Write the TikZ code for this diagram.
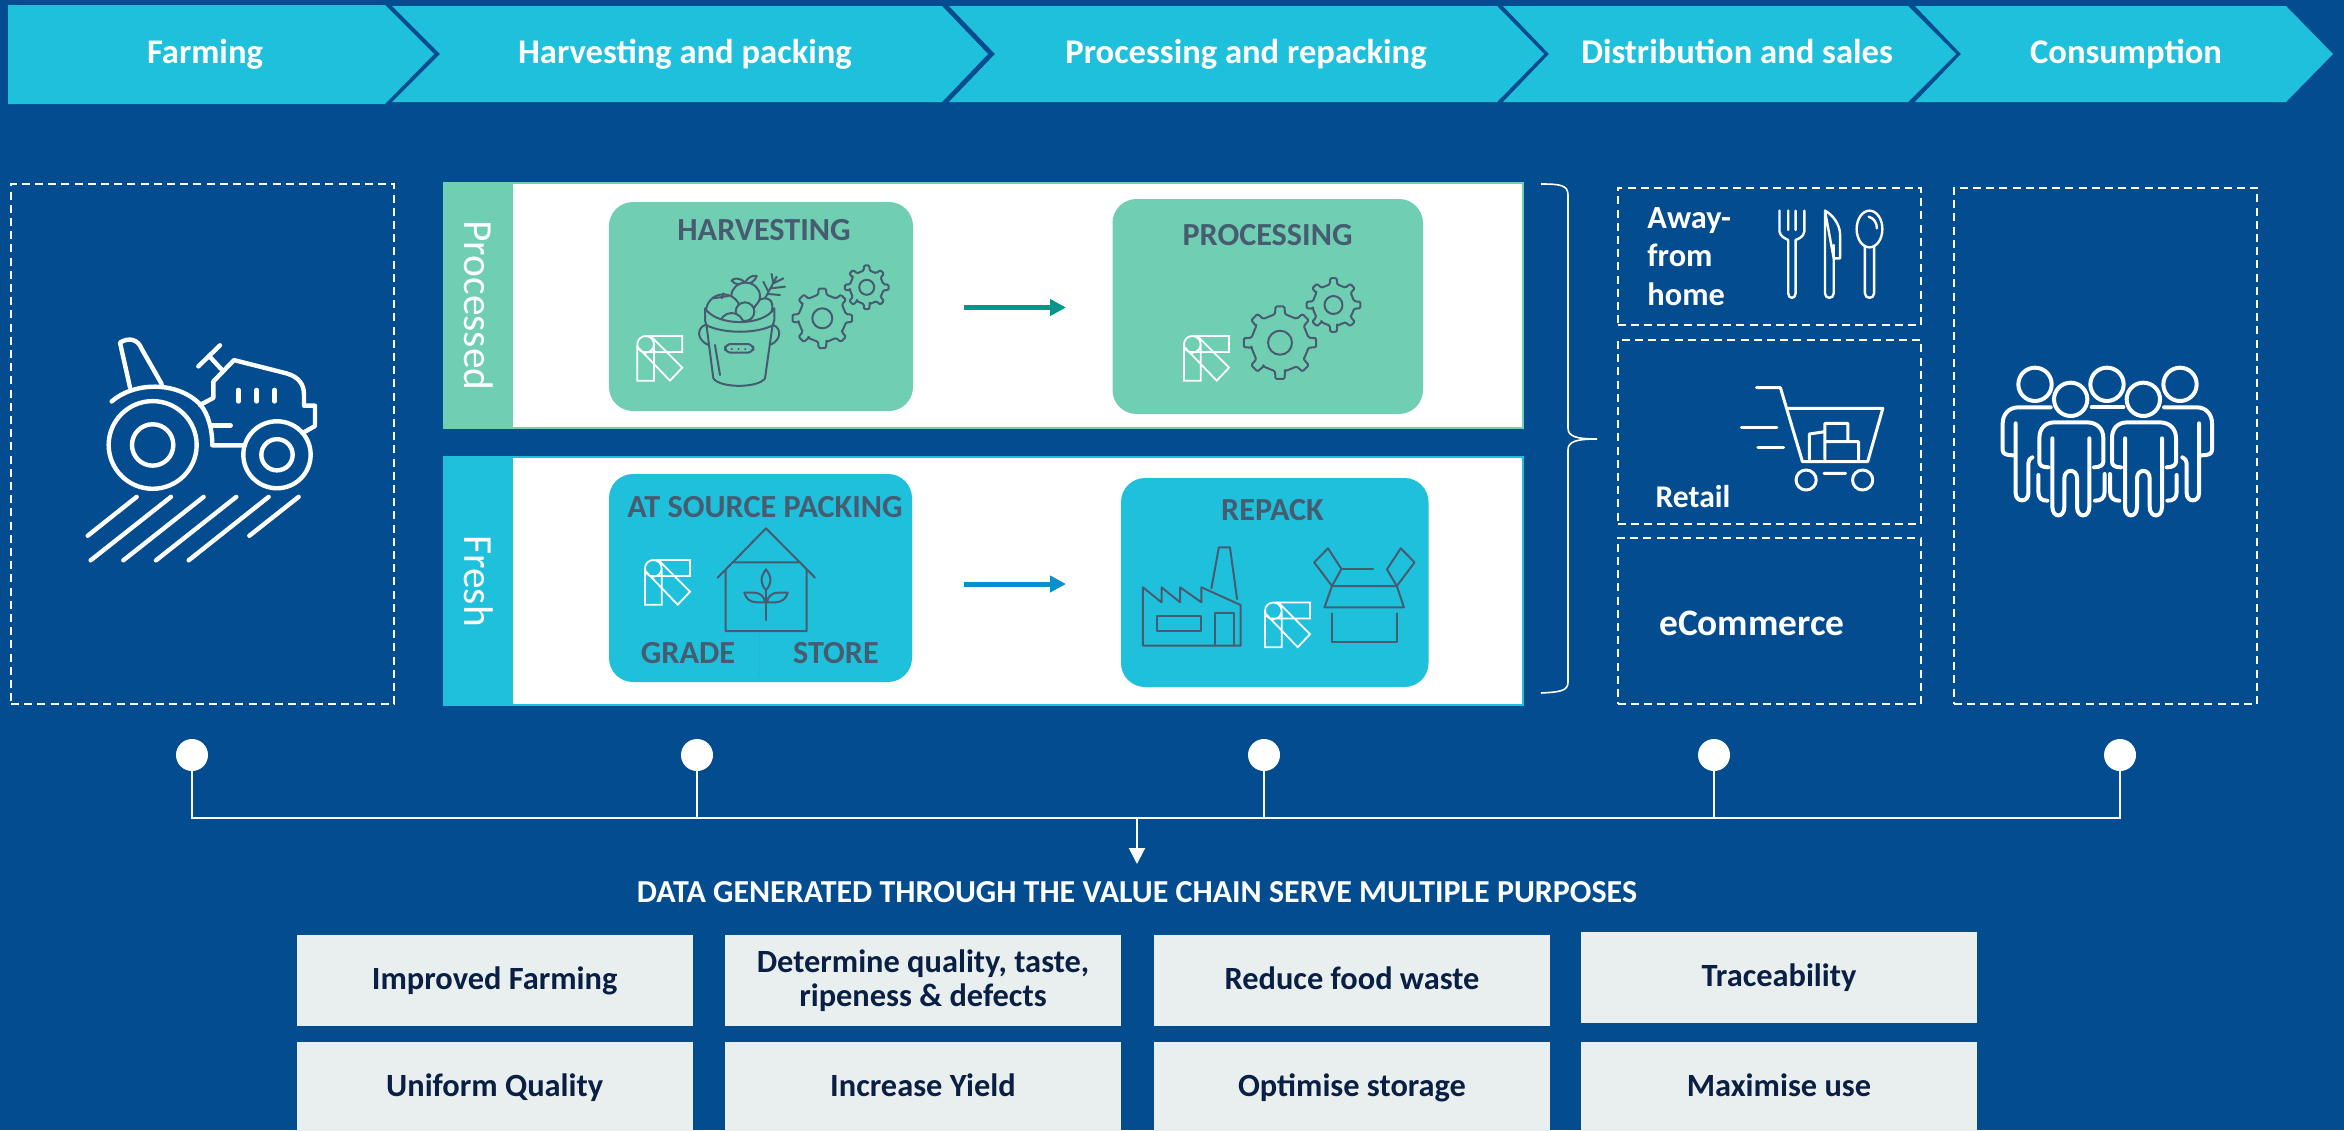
\documentclass[tikz,border=0pt]{standalone}
\usepackage{fontspec}
\setmainfont{Carlito}
\usetikzlibrary{arrows.meta,calc}
\definecolor{bgblue}{HTML}{024C8F}
\definecolor{cyanb}{HTML}{1FC0DC}
\definecolor{mint}{HTML}{70CFB2}
\definecolor{slate}{HTML}{475C70}
\definecolor{pale}{HTML}{E9EFEE}
\definecolor{navy}{HTML}{0A1F44}
\definecolor{teal}{HTML}{00968A}
\definecolor{arrowblue}{HTML}{0A8FCC}
\newcommand{\pstrut}{\rule[-3.5pt]{0pt}{16.4pt}}
\tikzset{
  chev/.style={fill=cyanb,draw=none},
  chevtext/.style={text=white,font=\fontsize{17.3}{20}\selectfont\bfseries,inner sep=0pt,anchor=base},
  dashbox/.style={draw=white,line width=1pt,dash pattern=on 4pt off 2.6pt,inner sep=0pt,outer sep=0pt},
  panel/.style={fill=white,line width=1pt,inner sep=0pt,outer sep=0pt},
  strip/.style={inner sep=0pt,outer sep=0pt},
  striptext/.style={text=white,rotate=-90,font=\fontsize{20.7}{24}\selectfont,inner sep=0pt},
  card/.style={rounded corners=12pt,inner sep=0pt,outer sep=0pt},
  cardtitle/.style={text=slate,font=\fontsize{16.1}{19}\selectfont\bfseries,inner sep=0pt,anchor=base},
  whitetext/.style={text=white,font=\fontsize{16.2}{19.2}\selectfont\bfseries,inner sep=0pt},
  purpose/.style={fill=pale,text=navy,font=\fontsize{16.2}{17}\selectfont\bfseries,align=center,inner sep=0pt,outer sep=0pt},
  dot/.style={circle,fill=white,minimum size=16pt,inner sep=0pt,outer sep=0pt},
  bus/.style={draw=white,line width=1pt},
  icon/.style={draw=white,line width=2.2pt,line cap=round,line join=round},
  thinicon/.style={draw=white,line width=1.2pt,line cap=round,line join=round},
  darkicon/.style={draw=slate,line width=1pt,line cap=round,line join=round},
  flow/.style={line width=2.5pt,-{Triangle[length=8pt,width=8pt]}},
  logomark/.pic={
    \draw[white,line width=0.9pt,line join=miter]
      (25,25) circle[radius=25]
      (0,25) -- (0,134) -- (50,134) -- (50,25)
      (25,0) -- (135,0) -- (135,48) -- (15,48)
      (4,36) -- (98,134) -- (135,95) -- (40,0);
  }
}
% node given by its corners in reference pixels
\newcommand{\pxnode}[7]{%
  \pgfmathsetmacro{\pxw}{(#5-#3)*0.5}%
  \pgfmathsetmacro{\pxh}{(#6-#4)*0.5}%
  \node[#1,minimum width=\pxw pt,minimum height=\pxh pt] (#2) at ({(#3+#5)/2},{(#4+#6)/2}) {#7};%
}
% gear: centre, outer radius, inner radius, hole radius
\newcommand{\geardraw}[5]{%
  \begin{scope}[shift={(#1,#2)}]
  \draw[darkicon,rounded corners=0.6pt] (-10:#4)
    \foreach \gearang in {0,45,...,315} {
      -- ({\gearang-10}:#4) -- ({\gearang-7}:#3) -- ({\gearang+7}:#3) -- ({\gearang+10}:#4) -- ({\gearang+35}:#4)
    } -- cycle;
  \draw[darkicon] (0,0) circle[radius=#5];
  \end{scope}%
}
\begin{document}
\begin{tikzpicture}[x=0.5pt,y=-0.5pt]
\useasboundingbox (0,0) rectangle (2344,1130);
\clip (0,0) rectangle (2344,1130);
\fill[bgblue] (0,0) rectangle (2344,1130);

% chevrons
\fill[chev] (8,5) -- (385,5) -- (434,54) -- (385,104) -- (8,104) -- cycle;
\fill[chev] (392,6) -- (942,6) -- (988,54) -- (942,102) -- (392,102) -- (440,54) -- cycle;
\fill[chev] (949,6) -- (1497,6) -- (1544,54) -- (1497,102) -- (949,102) -- (995,54) -- cycle;
\fill[chev] (1503,6) -- (1908,6) -- (1956,54) -- (1908,102) -- (1503,102) -- (1549,54) -- cycle;
\fill[chev] (1915,6) -- (2286,6) -- (2333,54) -- (2286,102) -- (1915,102) -- (1961,54) -- cycle;
\node[chevtext] (t1) at (205,63) {Farming};
\node[chevtext] (t2) at (685,63) {Harvesting and packing};
\node[chevtext] (t3) at (1246,63) {Processing and repacking};
\node[chevtext] (t4) at (1737,63) {Distribution and sales};
\node[chevtext] (t5) at (2126,63) {Consumption};

% dashed boxes
\pxnode{dashbox}{farmbox}{11}{184}{394}{704}{}
\pxnode{dashbox}{awaybox}{1617.5}{188}{1921}{325}{}
\pxnode{dashbox}{retailbox}{1617.5}{340}{1921}{524}{}
\pxnode{dashbox}{ecombox}{1617.5}{538}{1921}{704}{}
\pxnode{dashbox}{consbox}{1953.5}{188}{2257}{704}{}

% tractor
\begin{scope}[shift={(0,170)},xscale=1/3,yscale=0.3507]
\draw[icon] (335,660) .. controls (400,605) and (530,600) .. (600,668) .. controls (625,695) and (637,740) .. (637,785) -- (735,785);
\draw[icon] (458,784) ellipse[x radius=132,y radius=125] (458,784) ellipse[x radius=62,y radius=59];
\draw[icon] (831,812) ellipse[x radius=101,y radius=95.5] (831,812) ellipse[x radius=47,y radius=44.5];
\draw[icon] (390,620) -- (360,492) .. controls (390,475) and (415,485) .. (425,510) -- (485,610);
\draw[icon] (600,670) -- (640,650) -- (640,603) -- (702,542) -- (860,580) .. controls (895,590) and (912,610) .. (912,640) -- (912,672) -- (945,672) -- (945,730) -- (908,750);
\draw[icon] (595,560) -- (660,500) (632,535) -- (668,572);
\draw[icon] (715,627) -- (715,660) (770,627) -- (770,660) (824,627) -- (824,660) (637,728) -- (692,728);
\draw[icon] (263,1043) -- (410,932) (272,1113) -- (513,932) (370,1113) -- (611,932) (468,1113) -- (709,932) (566,1113) -- (806,932) (748,1043) -- (896,932);
\end{scope}

% processed panel
\pxnode{panel,draw=mint}{procpanel}{444}{183}{1522.5}{428}{}
\pxnode{strip,fill=mint}{procstrip}{444}{183}{513}{428}{}
\node[striptext] (proclabel) at (procstrip) {Processed};
\pxnode{card,fill=mint}{harv}{609}{202}{913}{411}{}
\pxnode{card,fill=mint}{proc}{1112.5}{199}{1423}{414}{}
\node[cardtitle] (harvtitle) at (764,240.7) {HARVESTING};
\node[cardtitle] (proctitle) at (1267.5,245) {PROCESSING};
\draw[flow,teal] ($(harv.east)+(51,1)$) -- ($(proc.west)+(-46.5,1)$);

% fresh panel
\pxnode{panel,draw=cyanb}{freshpanel}{444}{457}{1522.5}{705}{}
\pxnode{strip,fill=cyanb}{freshstrip}{444}{457}{513}{705}{}
\node[striptext] (freshlabel) at (freshstrip) {Fresh};
\pxnode{card,fill=cyanb}{pack}{609}{474}{912}{682}{}
\pxnode{card,fill=cyanb}{repack}{1121}{478}{1428.5}{687}{}
\node[cardtitle] (packtitle) at (765,517) {AT SOURCE PACKING};
\node[cardtitle] (gradetitle) at (688,663) {GRADE};
\node[cardtitle] (storetitle) at (836,663) {STORE};
\node[cardtitle] (repacktitle) at (1272.5,520) {REPACK};
\draw[flow,arrowblue] ($(repack.west)+(-157,1.5)$) -- ($(repack.west)+(-55,1.5)$);
\draw[line width=0.4pt,color=cyanb!92!slate] (759,633) -- (759,676);

% logos
\pic[scale=1/3] at (637.3,336) {logomark};
\pic[scale=1/3] at (1184,336) {logomark};
\pic[scale=1/3] at (645,560) {logomark};
\pic[scale=1/3] at (1265,602.5) {logomark};

% gears
\geardraw{822.3}{318.3}{30}{24}{10}
\geardraw{866.7}{287.3}{22}{17}{7.5}
\geardraw{1280}{342.7}{36.5}{29}{12}
\geardraw{1333.5}{305}{27}{21}{9}

% bucket
\begin{scope}[shift={(430,170)},scale=1/3]
\draw[darkicon] (1005,385) -- (1040,320) (1015,365) -- (1000,335) (1030,340) -- (1025,312) (1030,340) -- (1060,325) (1022,355) -- (1065,350) (1015,372) -- (1050,375);
\draw[darkicon,fill=mint] (960,450) .. controls (975,400) and (985,385) .. (1003,385) .. controls (1030,385) and (1032,410) .. (1020,440) -- (1000,470) -- cycle;
\draw[darkicon,fill=mint] (945,337) .. controls (925,320) and (910,325) .. (905,332) .. controls (915,345) and (930,345) .. (945,337) .. controls (955,320) and (970,315) .. (980,318) .. controls (975,335) and (960,340) .. (945,345);
\draw[darkicon,fill=mint] (947,378) ellipse[x radius=43,y radius=40];
\draw[darkicon,fill=mint] (880,425) circle[radius=52];
\draw[darkicon] (850,385) -- (895,378) (875,385) -- (880,370);
\draw[darkicon,fill=mint] (945,425) circle[radius=28];
\draw[darkicon,fill=mint] (905,465) circle[radius=36];
\draw[darkicon] (825,465) .. controls (800,475) and (800,510) .. (835,525) (1030,465) .. controls (1055,475) and (1055,510) .. (1020,525);
\draw[darkicon,fill=mint] (825,415) -- (825,450) -- (830,470) -- (850,625) .. controls (870,655) and (985,655) .. (1005,625) -- (1027,470) -- (1033,450) -- (1033,415) .. controls (1000,470) and (860,470) .. (825,415) -- cycle;
\draw[darkicon] (828,465) .. controls (880,492) and (980,492) .. (1030,465);
\draw[darkicon,rounded corners=3pt,fill=mint] (885,522) rectangle (970,548);
\draw[darkicon] (905,536) -- (906,536) (925,536) -- (926,536) (945,536) -- (946,536);
\draw[darkicon] (855,525) -- (870,615);
\end{scope}

% house
\begin{scope}[shift={(430,440)},scale=1/3]
\draw[darkicon] (863,413) -- (1008,265) -- (1155,413) (912,367) -- (1108,367) (887,390) -- (887,573) -- (1130,573) -- (1130,390);
\draw[darkicon] (1008,540) -- (1008,450);
\draw[darkicon] (1008,388) .. controls (990,412) and (990,430) .. (1008,450) .. controls (1026,430) and (1026,412) .. (1008,388) -- cycle;
\draw[darkicon] (943,458) -- (970,458) .. controls (992,458) and (1003,470) .. (1005,487) -- (980,487) .. controls (960,487) and (947,475) .. (943,458) -- cycle;
\draw[darkicon] (1073,458) -- (1046,458) .. controls (1024,458) and (1013,470) .. (1011,487) -- (1036,487) .. controls (1056,487) and (1069,475) .. (1073,458) -- cycle;
\end{scope}

% factory and box
\begin{scope}[shift={(950,440)},xscale=0.3954,yscale=1/3]
\draw[darkicon] (488,617) -- (488,442) -- (535,487) -- (535,442) -- (582,487) -- (582,442) -- (636,487) -- (636,442) -- (735,495) -- (735,617) -- cycle;
\draw[darkicon] (524,528) rectangle (636,574);
\draw[darkicon] (671,617) -- (671,518) -- (717,518) -- (717,617);
\draw[darkicon] (661,445) -- (680,322) -- (708,322) -- (726,477);
\draw[darkicon] (966,438) -- (1130,438) -- (1148,502) -- (947,502) -- cycle;
\draw[darkicon] (966,438) -- (921,367) -- (956,325) -- (990,387) -- (966,438);
\draw[darkicon] (1130,438) -- (1105,388) -- (1140,325) -- (1175,367) -- cycle;
\draw[darkicon] (990,387) -- (1070,387) (965,520) -- (965,605) -- (1131,605) -- (1131,520);
\end{scope}

% brace
\draw[white,line width=0.8pt] (1541,184) .. controls (1560,184) and (1568,185) .. (1568,195) -- (1568,428) .. controls (1568,436) and (1575,439) .. (1597,439) .. controls (1575,439) and (1568,442) .. (1568,450) -- (1568,682) .. controls (1568,691) and (1560,692) .. (1541,693);

% distribution texts
\node[whitetext,align=left,anchor=north west] (away) at (1647,207) {Away-\\from\\home};
\node[whitetext,font=\fontsize{15.8}{19}\selectfont\bfseries,anchor=base] (retail) at (1693,507.7) {Retail};
\node[whitetext,font=\fontsize{18.7}{22}\selectfont\bfseries,anchor=base] (ecom) at (1752,635) {eCommerce};

% cutlery and cart
\begin{scope}[shift={(1560,170)},xscale=0.4592,yscale=1/3]
\draw[thinicon] (478,122) -- (478,185) .. controls (480,200) and (490,205) .. (497,210) -- (497,370) .. controls (497,388) and (513,388) .. (513,370) -- (513,210) .. controls (522,205) and (530,200) .. (532,185) -- (532,122) (497,122) -- (497,180) (513,122) -- (513,180);
\draw[thinicon] (577,122) -- (577,370) .. controls (577,388) and (596,388) .. (596,370) -- (596,225) (596,265) -- (610,265) -- (610,195) .. controls (610,165) and (595,135) .. (577,122) -- cycle;
\draw[thinicon] (674,177) ellipse[x radius=28,y radius=55];
\draw[thinicon] (664,228) -- (664,370) .. controls (664,388) and (684,388) .. (684,370) -- (684,228);
\draw[thinicon] (672,140) .. controls (685,145) and (690,160) .. (690,175);
\draw[icon,line width=1.5pt] (428,653) -- (480,653) -- (528,875) -- (670,875) -- (703,715) -- (495,715);
\draw[icon,line width=1.5pt] (395,771) -- (472,771) (431,832) -- (487,832);
\draw[icon,line width=1.5pt] (543,868) -- (543,792) -- (577,785) (577,868) -- (577,760) -- (627,760) -- (627,815) (577,815) -- (650,815) -- (650,868);
\draw[icon,line width=1.5pt] (536,930) ellipse[x radius=22,y radius=30] (659,930) ellipse[x radius=22,y radius=30] (575,910) -- (622,910);
\end{scope}

% people
\begin{scope}[shift={(1980,350)},scale=1/3]
\draw[icon,line width=2pt] (165,103) circle[radius=50] (272,148) circle[radius=50] (381,103) circle[radius=50] (490,148) circle[radius=50] (600,103) circle[radius=50];
\draw[icon,line width=2pt] (212,172) -- (115,172) .. controls (85,172) and (68,195) .. (68,220) -- (68,300) .. controls (68,312) and (80,316) .. (100,316);
\draw[icon,line width=2pt] (107,220) -- (107,430) .. controls (107,458) and (145,458) .. (145,430) -- (145,340) .. controls (145,330) and (150,325) .. (157,322);
\draw[icon,line width=2pt] (175,375) -- (175,425) .. controls (175,445) and (185,452) .. (202,452);
\draw[icon,line width=2pt] (552,172) -- (650,172) .. controls (680,172) and (696,195) .. (696,220) -- (696,300) .. controls (696,312) and (684,316) .. (664,316);
\draw[icon,line width=2pt] (657,220) -- (657,430) .. controls (657,458) and (620,458) .. (620,430) -- (620,340) .. controls (620,330) and (614,325) .. (607,322);
\draw[icon,line width=2pt] (590,375) -- (590,425) .. controls (590,445) and (580,452) .. (562,452);
\draw[icon,line width=2pt] (335,172) -- (430,172);
\draw[icon,line width=2pt] (374,372) -- (374,425) .. controls (374,445) and (362,452) .. (345,452) (390,372) -- (390,425) .. controls (390,445) and (402,452) .. (418,452);
\foreach \pshift in {0,218} {
  \begin{scope}[shift={(\pshift,0)}]
  \draw[icon,line width=2pt] (205,352) .. controls (185,352) and (178,345) .. (178,335) -- (178,265) .. controls (178,235) and (195,217) .. (225,217) -- (320,217) .. controls (350,217) and (370,235) .. (370,265) -- (370,335) .. controls (370,345) and (360,352) .. (342,352);
  \draw[icon,line width=2pt] (217,265) -- (217,470) .. controls (217,505) and (253,505) .. (253,470) -- (253,385) .. controls (253,355) and (291,355) .. (291,385) -- (291,470) .. controls (291,505) and (328,505) .. (328,470) -- (328,265);
  \end{scope}
}
\end{scope}

% collector
\node[dot] (d1) at (192,755) {};
\node[dot] (d2) at (697,755) {};
\node[dot] (d3) at (1264,755) {};
\node[dot] (d4) at (1714,755) {};
\node[dot] (d5) at (2120,755) {};
\coordinate (busy) at (1137,817.5);
\coordinate (tip) at (1137,864);
\draw[bus] (d1) -- (d1 |- busy) -- (d5 |- busy) -- (d5);
\draw[bus] (d2) -- (d2 |- busy);
\draw[bus] (d3) -- (d3 |- busy);
\draw[bus] (d4) -- (d4 |- busy);
\draw[bus,-{Triangle[length=8pt,width=8pt]}] (busy) -- (tip);
\node[whitetext,font=\fontsize{16}{19}\selectfont\bfseries,anchor=base] (heading) at (1137,902.7) {DATA GENERATED THROUGH THE VALUE CHAIN SERVE MULTIPLE PURPOSES};

% purposes
\pxnode{purpose}{p1}{296.7}{935}{692.7}{1026}{\pstrut Improved Farming}
\pxnode{purpose}{p2}{725}{935}{1121}{1026}{\pstrut Determine quality, taste,\\\pstrut ripeness \& defects}
\pxnode{purpose}{p3}{1154}{935}{1550}{1026}{\pstrut Reduce food waste}
\pxnode{purpose}{p4}{1581}{932}{1977}{1023}{\pstrut Traceability}
\pxnode{purpose}{p5}{296.7}{1042}{692.7}{1133}{\pstrut Uniform Quality}
\pxnode{purpose}{p6}{725}{1042}{1121}{1133}{\pstrut Increase Yield}
\pxnode{purpose}{p7}{1154}{1042}{1550}{1133}{\pstrut Optimise storage}
\pxnode{purpose}{p8}{1581}{1042}{1977}{1133}{\pstrut Maximise use}
\end{tikzpicture}
\end{document}
